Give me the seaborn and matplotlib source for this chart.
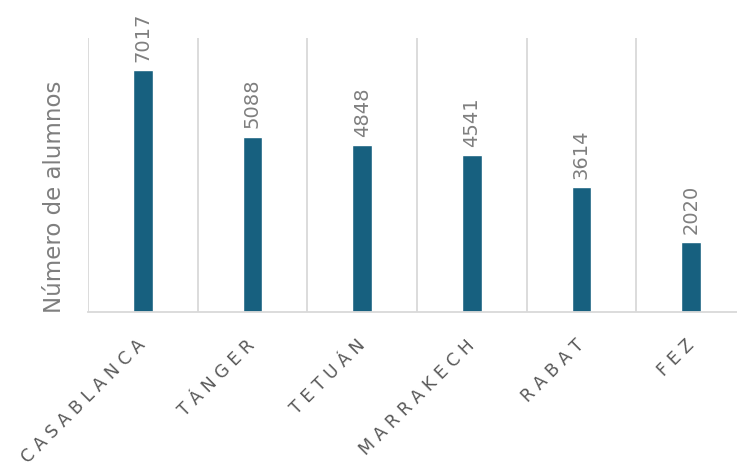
import matplotlib
matplotlib.use("Agg")
import matplotlib.pyplot as plt
import seaborn as sns
import numpy as np

cities = ["CASABLANCA", "TÁNGER", "TETUÁN", "MARRAKECH", "RABAT", "FEZ"]
alumnos = [7017, 5088, 4848, 4541, 3614, 2020]
y_label = "Número de alumnos"

bar_color = "#17607f"
grid_color = "#d9d9d9"
text_gray = "#7f7f7f"
tick_gray = "#595959"

sns.set_theme(style="white")
plt.rcParams["font.family"] = ["DejaVu Sans"]

W, H = 737, 467
fig = plt.figure(figsize=(W / 100, H / 100), dpi=100)
ax = fig.add_axes([88 / W, (H - 312) / H, 658 / W, (312 - 38) / H])

sns.barplot(x=cities, y=alumnos, color=bar_color, saturation=1, width=0.18, ax=ax)

ax.set_xlim(-0.5, len(cities) - 0.5)
ax.set_ylim(0, 7950)
ax.set_yticks([])
ax.set_ylabel("")

for s in ["left", "top", "right"]:
    ax.spines[s].set_visible(False)
ax.spines["bottom"].set_color(grid_color)
ax.spines["bottom"].set_linewidth(1.3)

ax.set_xticks(np.arange(-0.5, len(cities), 1.0), minor=True)
ax.grid(False)
ax.grid(True, which="minor", axis="x", color=grid_color, linewidth=1.3)
ax.tick_params(axis="x", which="both", length=0)

spaced = [" ".join(list(c)) for c in cities]
ax.set_xticks(range(len(cities)))
ax.set_xticklabels(spaced, rotation=45, ha="right", va="center",
                   rotation_mode="anchor", fontsize=12.5, color=tick_gray)
ax.tick_params(axis="x", which="major", pad=22)

for cont in ax.containers:
    ax.bar_label(cont, labels=[str(v) for v in alumnos], rotation=90,
                 padding=6, fontsize=14, color=text_gray)

fig.text(55 / W, (H - 313) / H, y_label, rotation=90, ha="center", va="bottom",
         fontsize=16.5, color=text_gray)

fig.savefig("out.png", dpi=100)
